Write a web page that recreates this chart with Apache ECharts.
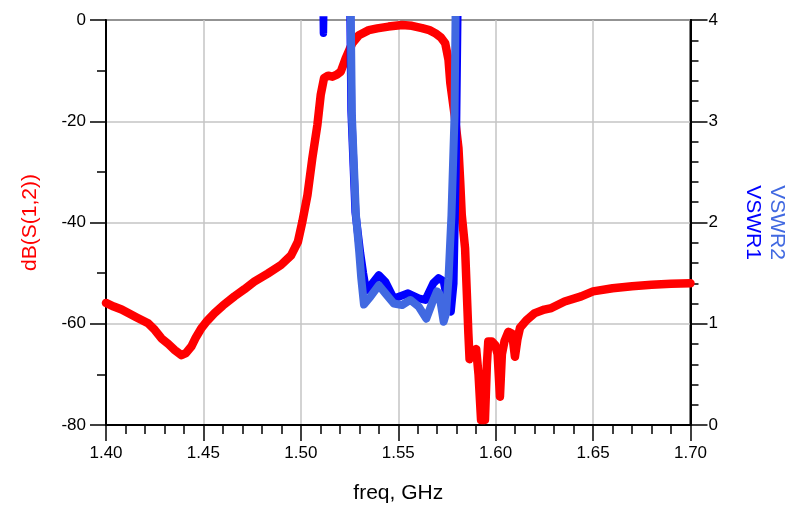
<!DOCTYPE html>
<html><head><meta charset="utf-8">
<script src="https://cdn.jsdelivr.net/npm/echarts@6/dist/echarts.min.js"></script>
<style>html,body{margin:0;padding:0;background:#fff}#c{width:795px;height:510px}</style>
</head><body><div id="c"></div>
<script>
// dB(S(1,2)) trace
const s12Freq = [1.4000,1.4040,1.4080,1.4114,1.4160,1.4216,1.4250,1.4285,1.4320,1.4353,1.4387,1.4410,1.4438,1.4460,1.4489,1.4520,1.4557,1.4600,1.4659,1.4710,1.4761,1.4830,1.4898,1.4950,1.4985,1.5008,1.5034,1.5059,1.5085,1.5102,1.5119,1.5140,1.5162,1.5185,1.5205,1.5230,1.5264,1.5298,1.5349,1.5392,1.5450,1.5520,1.5570,1.5622,1.5660,1.5690,1.5720,1.5741,1.5758,1.5767,1.5790,1.5809,1.5818,1.5826,1.5843,1.5852,1.5860,1.5866,1.5880,1.5900,1.5912,1.5925,1.5945,1.5955,1.5962,1.5980,1.5997,1.6010,1.6022,1.6032,1.6045,1.6065,1.6085,1.6099,1.6112,1.6125,1.6158,1.6201,1.6250,1.6286,1.6354,1.6439,1.6500,1.6600,1.6700,1.6800,1.6900,1.7000];
const s12Db   = [-55.9,-56.6,-57.2,-57.9,-58.8,-59.9,-61.2,-62.9,-64.0,-65.2,-66.2,-65.8,-64.5,-62.8,-60.9,-59.4,-57.9,-56.4,-54.6,-53.2,-51.7,-50.1,-48.4,-46.5,-43.8,-39.8,-34.6,-27.3,-20.7,-14.8,-11.5,-11.0,-11.2,-10.8,-10.2,-7.6,-4.6,-3.0,-2.0,-1.65,-1.3,-1.0,-1.15,-1.6,-2.0,-2.6,-3.5,-4.6,-7.9,-12.4,-19.0,-25.3,-31.9,-38.5,-45.1,-54.0,-62.0,-67.0,-65.5,-65.0,-70.0,-79.0,-79.0,-68.0,-63.5,-63.5,-64.2,-66.0,-74.4,-66.0,-63.5,-61.6,-62.0,-66.5,-63.0,-60.8,-59.3,-57.9,-57.2,-56.9,-55.6,-54.6,-53.6,-53.0,-52.6,-52.3,-52.1,-52.0];

// VSWR1 trace (two visible pieces)
const vswr1StubFreq = [1.5112,1.5116,1.5121];
const vswr1StubVal  = [4.5,3.87,4.5];
const vswr1Freq = [1.5243,1.5259,1.5280,1.5305,1.5320,1.5335,1.5360,1.5400,1.5434,1.5477,1.5520,1.5550,1.5605,1.5639,1.5680,1.5707,1.5733,1.5758,1.5770,1.5784,1.5795,1.5804,1.5812];
const vswr1Val  = [6.0,3.1,2.1,1.7,1.5,1.33,1.38,1.48,1.415,1.25,1.28,1.30,1.25,1.235,1.40,1.45,1.42,1.17,1.12,1.40,2.5,4.0,5.5];

// VSWR2 trace
const vswr2Freq = [1.5245,1.5262,1.5283,1.5300,1.5310,1.5324,1.5358,1.5400,1.5434,1.5477,1.5520,1.5562,1.5605,1.5644,1.5673,1.5699,1.5710,1.5733,1.5745,1.5758,1.5773,1.5789,1.5794,1.5800];
const vswr2Val  = [6.0,3.06,2.07,1.70,1.45,1.19,1.27,1.38,1.30,1.20,1.185,1.235,1.17,1.05,1.20,1.32,1.30,1.02,1.10,1.45,2.07,3.06,4.0,5.5];

// axis ticks
const xTicks = {min:1.40, max:1.70, interval:0.05};
const yLeftTicks = {min:-80, max:0, interval:20};
const yRightTicks = {min:0, max:4, interval:1};

const zip = (a,b)=>a.map((v,i)=>[v,b[i]]);
const FONT = 'Liberation Sans, Arial, sans-serif';
const black = '#000';
const tickStyle = {color:black, width:1.5};

const chart = echarts.init(document.getElementById('c'), null, {renderer:'canvas'});
chart.setOption({
  animation:false,
  backgroundColor:'#fff',
  grid:{left:106, right:102, top:20, bottom:85, containLabel:false, show:true, borderColor:black, borderWidth:2, backgroundColor:'transparent'},
  xAxis:{
    type:'value', min:xTicks.min, max:xTicks.max, interval:xTicks.interval,
    name:'freq, GHz', nameLocation:'middle', nameGap:58,
    nameTextStyle:{color:black, fontSize:21, fontFamily:FONT},
    axisLine:{show:true, onZero:false, lineStyle:{color:black, width:2}},
    axisTick:{show:true, inside:false, length:16, lineStyle:tickStyle},
    minorTick:{show:true, splitNumber:5, length:9, lineStyle:tickStyle},
    axisLabel:{color:black, fontSize:17, fontFamily:FONT, margin:20, formatter:v=>v.toFixed(2)},
    splitLine:{show:true, lineStyle:{color:'#c4c4c4', width:1.5}},
    minorSplitLine:{show:false}
  },
  yAxis:[{
    type:'value', position:'left', min:yLeftTicks.min, max:yLeftTicks.max, interval:yLeftTicks.interval,
    name:'dB(S(1,2))', nameLocation:'middle', nameRotate:90, nameGap:65,
    nameTextStyle:{color:'#ff0000', fontSize:21, fontFamily:FONT},
    axisLine:{show:true, onZero:false, lineStyle:{color:black, width:2}},
    axisTick:{show:true, inside:false, length:16, lineStyle:tickStyle},
    minorTick:{show:true, splitNumber:2, length:9, lineStyle:tickStyle},
    axisLabel:{color:black, fontSize:17, fontFamily:FONT, margin:20},
    splitLine:{show:true, lineStyle:{color:'#c4c4c4', width:1.5}},
    minorSplitLine:{show:false}
  },{
    type:'value', position:'right', min:yRightTicks.min, max:yRightTicks.max, interval:yRightTicks.interval,
    name:'{a|VSWR2}\n{b|VSWR1}', nameLocation:'middle', nameRotate:-90, nameGap:50,
    nameTextStyle:{fontFamily:FONT, rich:{
      a:{color:'#4169e1', fontSize:21, lineHeight:24, fontFamily:FONT},
      b:{color:'#0000ff', fontSize:21, lineHeight:24, fontFamily:FONT}}},
    axisLine:{show:true, onZero:false, lineStyle:{color:black, width:2}},
    axisTick:{show:true, inside:false, length:17, lineStyle:tickStyle},
    minorTick:{show:true, splitNumber:5, length:8, lineStyle:tickStyle},
    axisLabel:{color:black, fontSize:17, fontFamily:FONT, margin:18},
    splitLine:{show:false},
    minorSplitLine:{show:false}
  }],
  series:[
    {type:'line', name:'dB(S(1,2))', yAxisIndex:0, data:zip(s12Freq,s12Db), showSymbol:false, symbol:'none', clip:true,
     lineStyle:{color:'#ff0000', width:8.5, cap:'round', join:'round'}},
    {type:'line', name:'VSWR1a', yAxisIndex:1, data:zip(vswr1StubFreq,vswr1StubVal), showSymbol:false, symbol:'none', clip:true,
     lineStyle:{color:'#0000ff', width:7.5, cap:'round', join:'round'}},
    {type:'line', name:'VSWR1', yAxisIndex:1, data:zip(vswr1Freq,vswr1Val), showSymbol:false, symbol:'none', clip:true,
     lineStyle:{color:'#0000ff', width:8, cap:'round', join:'round'}},
    {type:'line', name:'VSWR2', yAxisIndex:1, data:zip(vswr2Freq,vswr2Val), showSymbol:false, symbol:'none', clip:true,
     lineStyle:{color:'#4169e1', width:8, cap:'round', join:'round'}}
  ]
});
</script>
</body></html>
